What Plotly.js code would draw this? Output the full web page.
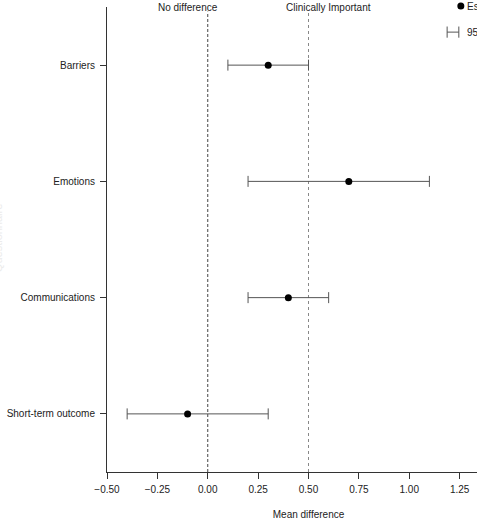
<!DOCTYPE html>
<html>
<head>
<meta charset="utf-8">
<script src="https://cdn.plot.ly/plotly-3.0.1.min.js"></script>
<style>
  html, body { margin: 0; padding: 0; background: #fff; }
  #frame { width: 477px; height: 523px; overflow: hidden; }
</style>
</head>
<body>
<div id="frame"><div id="chart"></div></div>
<script>
// Subscales, listed top to bottom
const subscales = ['Barriers', 'Emotions', 'Communications', 'Short-term outcome'];
// Point estimates of the mean difference
const estimate = [0.30, 0.70, 0.40, -0.10];
// 95% confidence limits
const ciLower = [0.10, 0.20, 0.20, -0.40];
const ciUpper = [0.50, 1.10, 0.60, 0.30];
// x axis ticks
const xTicks = [-0.5, -0.25, 0, 0.25, 0.5, 0.75, 1.0, 1.25];
// Reference lines: no difference and clinically important difference
const refValues = [0, 0.5];
const refLabels = ['No difference', 'Clinically Important'];

const errPlus = estimate.map((e, i) => ciUpper[i] - e);
const errMinus = estimate.map((e, i) => e - ciLower[i]);

const FONT = 'Liberation Sans, Arial, Helvetica, sans-serif';
const FS = 10;
const INK = '#222';

const trace = {
  type: 'scatter',
  mode: 'markers',
  x: estimate,
  y: subscales,
  marker: { color: '#000', size: 7 },
  error_x: {
    type: 'data',
    symmetric: false,
    array: errPlus,
    arrayminus: errMinus,
    color: '#555',
    thickness: 1,
    width: 5.5
  },
  showlegend: false,
  hoverinfo: 'x+y'
};

const refShapes = refValues.map((v, i) => ({
  type: 'line', xref: 'x', yref: 'paper',
  x0: v, x1: v, y0: 0, y1: 0.99,
  line: { color: i === 0 ? '#444' : '#888', width: 1, dash: i === 0 ? '3px,2px' : 'dot' },
  layer: 'below'
}));

const refNotes = refValues.map((v, i) => ({
  xref: 'x', yref: 'paper', x: v, y: 1,
  xanchor: 'center', yanchor: 'middle',
  xshift: i === 0 ? -20 : 20,
  text: refLabels[i], showarrow: false,
  font: { family: FONT, size: FS, color: INK }
}));

// Key for the estimate dot and the 95% interval bar
const keyShapes = [
  { type: 'circle', xref: 'paper', yref: 'paper', xsizemode: 'pixel', ysizemode: 'pixel',
    xanchor: 0.878, yanchor: 1.002, x0: -3.5, x1: 3.5, y0: -3.5, y1: 3.5,
    fillcolor: '#000', line: { color: '#000', width: 0 } },
  { type: 'line', xref: 'paper', yref: 'paper', x0: 0.844, x1: 0.873, y0: 0.946, y1: 0.946,
    line: { color: '#555', width: 1 } },
  { type: 'line', xref: 'paper', yref: 'paper', x0: 0.844, x1: 0.844, y0: 0.934, y1: 0.958,
    line: { color: '#555', width: 1 } },
  { type: 'line', xref: 'paper', yref: 'paper', x0: 0.873, x1: 0.873, y0: 0.934, y1: 0.958,
    line: { color: '#555', width: 1 } }
];
const keyNotes = [
  { xref: 'paper', yref: 'paper', x: 0.888, y: 1.002, xanchor: 'left', yanchor: 'middle',
    text: 'Estimate', showarrow: false, font: { family: FONT, size: FS, color: INK } },
  { xref: 'paper', yref: 'paper', x: 0.888, y: 0.946, xanchor: 'left', yanchor: 'middle',
    text: '95% CI', showarrow: false, font: { family: FONT, size: FS, color: INK } }
];

// Faint y-axis caption, mostly outside the visible frame
const yCaption = {
  xref: 'paper', yref: 'paper', x: -0.2705, y: 0.505, xanchor: 'center', yanchor: 'middle',
  text: 'Questionnaire', textangle: -90, showarrow: false,
  font: { family: FONT, size: 11, color: '#ececec' }
};

const layout = {
  width: 600,
  height: 523,
  margin: { l: 107, r: 90, t: 7, b: 51 },
  paper_bgcolor: '#fff',
  plot_bgcolor: '#fff',
  font: { family: FONT, size: FS, color: INK },
  xaxis: {
    range: [-0.5, 1.5],
    tickvals: xTicks,
    tickformat: '.2f',
    showgrid: false, zeroline: false,
    showline: true, linecolor: '#333', linewidth: 1,
    ticks: 'outside', ticklen: 6, tickcolor: '#333', tickwidth: 1,
    ticklabelstandoff: 2,
    tickfont: { family: FONT, size: FS, color: INK },
    title: { text: 'Mean difference', standoff: 16, font: { family: FONT, size: FS, color: INK } },
    automargin: false
  },
  yaxis: {
    type: 'category',
    categoryorder: 'array',
    categoryarray: subscales.slice().reverse(),
    range: [-0.5, 3.5],
    showgrid: false, zeroline: false,
    showline: true, linecolor: '#333', linewidth: 1,
    ticks: 'outside', ticklen: 6, tickcolor: '#333', tickwidth: 1,
    ticklabelstandoff: 3,
    tickfont: { family: FONT, size: FS, color: INK },
    automargin: false
  },
  shapes: refShapes.concat(keyShapes),
  annotations: refNotes.concat(keyNotes, [yCaption]),
  showlegend: false
};

Plotly.newPlot('chart', [trace], layout, { displayModeBar: false, staticPlot: true });
</script>
</body>
</html>
